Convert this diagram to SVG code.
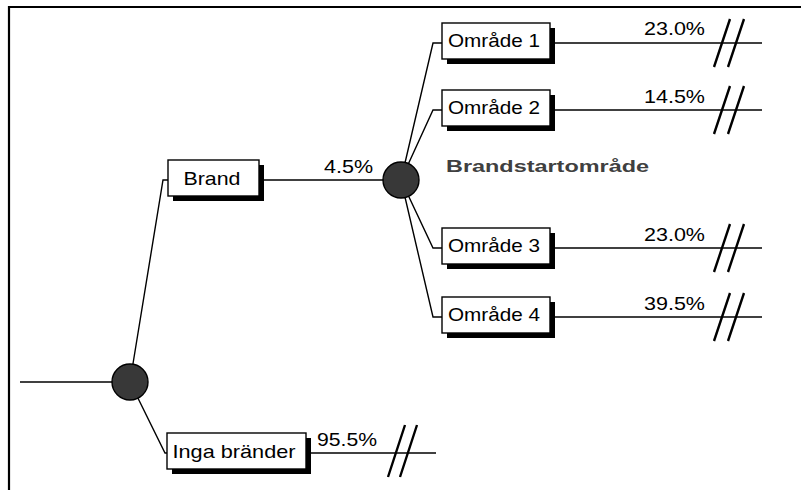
<svg xmlns="http://www.w3.org/2000/svg" width="801" height="490" viewBox="0 0 801 490">
<style>
.bg{fill:#ffffff}
.frame{fill:none;stroke:#000;stroke-width:2.2}
.ln{fill:none;stroke:#000;stroke-width:1.4}
.brk{fill:none;stroke:#000;stroke-width:2.4}
.shadow{fill:#000}
.box{fill:#fff;stroke:#000;stroke-width:1.4}
.chance{fill:#383838;stroke:#000;stroke-width:1.4}
.lbl{font-family:"Liberation Sans",Arial,sans-serif;font-size:19px;fill:#000}
.pct{font-family:"Liberation Sans",Arial,sans-serif;font-size:18px;fill:#000}
.title{font-family:"Liberation Sans",Arial,sans-serif;font-size:17px;font-weight:bold;fill:#404040}
</style>
<rect class="bg" x="0" y="0" width="801" height="490"/>
<path class="frame" d="M9,490 V7 H801"/>
<g id="connectors">
  <path class="ln" d="M20,382 H130"/>
  <path class="ln" d="M130,382 L163,180 H168"/>
  <path class="ln" d="M130,382 L165,453 H167"/>
  <path class="ln" d="M259,180 H401"/>
  <path class="ln" d="M306,453 H436"/>
  <path class="ln" d="M401,180 L433,43 H442"/>
  <path class="ln" d="M401,180 L433,110 H442"/>
  <path class="ln" d="M401,180 L433,248 H442"/>
  <path class="ln" d="M401,180 L433,317 H442"/>
  <path class="ln" d="M550,43 H762"/>
  <path class="ln" d="M550,110 H762"/>
  <path class="ln" d="M550,248 H762"/>
  <path class="ln" d="M550,317 H762"/>
  <g id="breaks">
    <path class="brk" d="M714,67 L730,19 M728,67 L744,19"/>
    <path class="brk" d="M714,134 L730,86 M728,134 L744,86"/>
    <path class="brk" d="M714,272 L730,224 M728,272 L744,224"/>
    <path class="brk" d="M714,341 L730,293 M728,341 L744,293"/>
    <path class="brk" d="M388,477 L405,425 M400,477 L417,425"/>
  </g>
  <text class="pct" x="373" y="173" text-anchor="end" textLength="49" lengthAdjust="spacingAndGlyphs">4.5%</text>
  <text class="pct" x="377" y="446" text-anchor="end" textLength="60" lengthAdjust="spacingAndGlyphs">95.5%</text>
  <text class="pct" x="705" y="35" text-anchor="end" textLength="61" lengthAdjust="spacingAndGlyphs">23.0%</text>
  <text class="pct" x="705" y="103" text-anchor="end" textLength="61" lengthAdjust="spacingAndGlyphs">14.5%</text>
  <text class="pct" x="705" y="241" text-anchor="end" textLength="61" lengthAdjust="spacingAndGlyphs">23.0%</text>
  <text class="pct" x="705" y="310" text-anchor="end" textLength="61" lengthAdjust="spacingAndGlyphs">39.5%</text>
</g>
<g id="chance1">
  <circle class="chance" cx="130" cy="382" r="18"/>
</g>
<g id="chance2">
  <circle class="chance" cx="401" cy="180" r="18"/>
  <text class="title" x="446" y="172" textLength="203" lengthAdjust="spacingAndGlyphs">Brandstartområde</text>
</g>
<g id="brand">
  <rect class="shadow" x="173" y="165" width="91" height="36"/>
  <rect class="box" x="168" y="160" width="91" height="36"/>
  <text class="lbl" x="212" y="185" text-anchor="middle" textLength="57" lengthAdjust="spacingAndGlyphs">Brand</text>
</g>
<g id="inga">
  <rect class="shadow" x="172" y="438" width="139" height="36"/>
  <rect class="box" x="167" y="433" width="139" height="36"/>
  <text class="lbl" x="234" y="458" text-anchor="middle" textLength="123" lengthAdjust="spacingAndGlyphs">Inga bränder</text>
</g>
<g id="omrade1">
  <rect class="shadow" x="447" y="28" width="108" height="36"/>
  <rect class="box" x="442" y="23" width="108" height="36"/>
  <text class="lbl" x="494" y="47" text-anchor="middle" textLength="92" lengthAdjust="spacingAndGlyphs">Område 1</text>
</g>
<g id="omrade2">
  <rect class="shadow" x="447" y="95" width="108" height="36"/>
  <rect class="box" x="442" y="90" width="108" height="36"/>
  <text class="lbl" x="494" y="114" text-anchor="middle" textLength="92" lengthAdjust="spacingAndGlyphs">Område 2</text>
</g>
<g id="omrade3">
  <rect class="shadow" x="447" y="233" width="108" height="36"/>
  <rect class="box" x="442" y="228" width="108" height="36"/>
  <text class="lbl" x="494" y="252" text-anchor="middle" textLength="92" lengthAdjust="spacingAndGlyphs">Område 3</text>
</g>
<g id="omrade4">
  <rect class="shadow" x="447" y="302" width="108" height="36"/>
  <rect class="box" x="442" y="297" width="108" height="36"/>
  <text class="lbl" x="494" y="321" text-anchor="middle" textLength="92" lengthAdjust="spacingAndGlyphs">Område 4</text>
</g>
</svg>
